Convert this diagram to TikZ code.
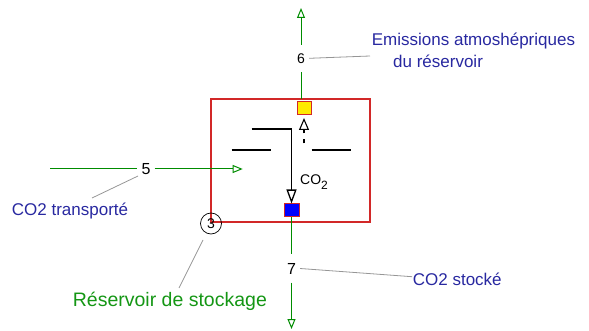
\documentclass[tikz,border=0pt]{standalone}
\usepackage{fontspec}
\setmainfont{Liberation Sans}
\usetikzlibrary{arrows.meta}
\definecolor{boxred}{RGB}{210,40,40}
\definecolor{flowgreen}{RGB}{0,140,0}
\definecolor{txtgreen}{RGB}{20,150,20}
\definecolor{txtblue}{RGB}{40,40,160}
\definecolor{leadgray}{RGB}{150,150,150}
\definecolor{sqyellow}{RGB}{255,235,0}
\begin{document}
\begin{tikzpicture}[x=1pt,y=-1pt,
  flow/.style={draw=flowgreen, line width=1pt},
  gtip/.style={-{Triangle[open,length=10pt,width=8pt]}},
  blk/.style={draw=black, line width=1.3pt},
  leader/.style={draw=leadgray, line width=0.8pt},
  num/.style={inner xsep=4pt, inner ysep=8.5pt, font=\fontsize{16}{16}\selectfont},
  lbl/.style={inner sep=0pt, anchor=base west},
  sq/.style={draw=boxred, line width=1pt, inner sep=0pt}
]
\useasboundingbox (0,0) rectangle (589,331);

% reservoir box
\node[draw=boxred, line width=1.2pt, minimum width=159pt, minimum height=123pt, inner sep=0pt] (box) at (290.5,160.5) {};

% numbers
\node[num, font=\fontsize{14}{14}\selectfont] (n6) at (301,58.3) {6};
\node[num] (n5) at (146,169) {5};
\node[num] (n7) at (291.5,268.5) {7};
\node[draw, circle, minimum size=21pt, inner sep=0pt, line width=0.7pt, font=\fontsize{14}{14}\selectfont] (n3) at (211,223.5) {3};

% coordinates
\coordinate (topin) at (301,99);
\coordinate (toptip) at (301,8);
\coordinate (lstart) at (50,169);
\coordinate (rtip) at (242.7,169);
\coordinate (bottip) at (291.5,329);
\coordinate (pipe) at (251.7,129);
\coordinate (ll1) at (231.7,150);
\coordinate (ll2) at (271,150);
\coordinate (rl1) at (311.7,150);
\coordinate (rl2) at (351,150);
\coordinate (dstart) at (304,143.3);

% green flows
\draw[flow] (topin) -- (n6);
\draw[flow,gtip] (n6) -- (toptip);
\draw[flow] (lstart) -- (n5);
\draw[flow,gtip] (n5) -- (rtip);

% squares
\node[sq, fill=sqyellow, minimum width=14pt, minimum height=13pt] (ys) at (304,108.5) {};
\node[sq, fill=blue, minimum width=15pt, minimum height=13pt] (bs) at (291.5,210.5) {};

\draw[flow] (bs.south) -- (n7);
\draw[flow,gtip] (n7) -- (bottip);

% inner black lines
\draw[blk, -{Triangle[open,length=14pt,width=10pt]}] (pipe) -| (bs.north);
\draw[blk] (ll1) -- (ll2);
\draw[blk] (rl1) -- (rl2);
\draw[blk, line width=1.1pt, dash pattern=on 4pt off 6pt on 30pt, shorten >=2.5pt, -{Triangle[open,length=12pt,width=10pt]}] (dstart) -- (ys.south);

\node[lbl, font=\fontsize{14}{14}\selectfont] (co2) at (300,185) {CO\raisebox{-5pt}{\fontsize{12}{12}\selectfont 2}};

% labels
\node[lbl, text=txtblue, font=\fontsize{17}{17}\selectfont] (t5) at (11.7,215.7) {CO2 transporté};
\node[lbl, text=txtgreen, font=\fontsize{19.5}{19.5}\selectfont] (t3) at (72.7,306.7) {Réservoir de stockage};
\node[lbl, text=txtblue, font=\fontsize{17}{17}\selectfont] (t6a) at (371.7,46) {Emissions atmoshépriques};
\node[lbl, text=txtblue, font=\fontsize{17}{17}\selectfont] (t6b) at (393,67.7) {du réservoir};
\node[lbl, text=txtblue, font=\fontsize{17}{17}\selectfont] (t7) at (412.7,285.7) {CO2 stocké};

% leaders
\coordinate (l5a) at (92,198);
\coordinate (l5b) at (138,176);
\coordinate (l3a) at (203,240);
\coordinate (l3b) at (179,288);
\coordinate (l6b) at (370,56);
\coordinate (l7b) at (412,276.7);
\draw[leader] (l5a) -- (l5b);
\draw[leader] (l3a) -- (l3b);
\draw[leader] (n6.east) -- (l6b);
\draw[leader] (n7.east) -- (l7b);
\end{tikzpicture}
\end{document}
